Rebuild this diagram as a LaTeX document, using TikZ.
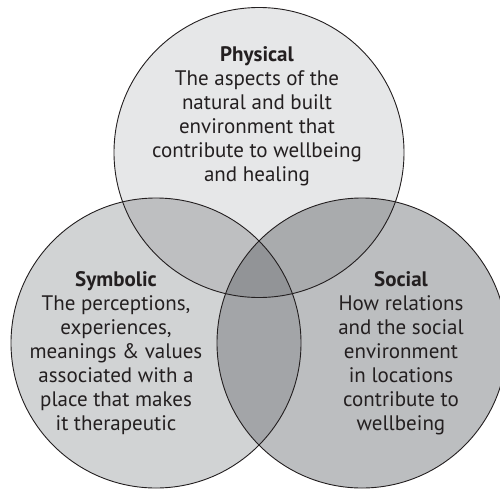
\documentclass[tikz,border=0pt]{standalone}
\usepackage{fontspec}
\setmainfont{PT Sans}
\usetikzlibrary{positioning}

\definecolor{inkdark}{HTML}{231F20}
\definecolor{physfill}{HTML}{E6E7E8}
\definecolor{symbfill}{HTML}{D1D3D4}
\definecolor{socfill}{HTML}{BCBEC0}
\definecolor{physsymb}{HTML}{BEBFC1}
\definecolor{physsoc}{HTML}{A9ABAD}
\definecolor{symbsoc}{HTML}{A3A5A8}
\definecolor{allthree}{HTML}{929497}

\begin{document}
\begin{tikzpicture}[
    x=1pt, y=-1pt,
    ring/.style={draw=inkdark, line width=0.9pt},
    blurb/.style={
        align=center,
        inner sep=0pt,
        text=inkdark,
        font=\fontsize{21}{24}\selectfont
    }
]
\useasboundingbox (0,0) rectangle (500,490);
\clip (0,0) rectangle (500,490);

% circle centres
\coordinate (phys) at (259,152.5);
\coordinate (symb) at (156,343);
\coordinate (soc) at (362,343);
\def\rad{145pt}

% single circles
\fill[physfill] (phys) circle[radius=\rad];
\fill[symbfill] (symb) circle[radius=\rad];
\fill[socfill] (soc) circle[radius=\rad];

% pairwise overlaps
\begin{scope}
  \clip (phys) circle[radius=\rad];
  \fill[physsymb] (symb) circle[radius=\rad];
  \fill[physsoc] (soc) circle[radius=\rad];
\end{scope}
\begin{scope}
  \clip (symb) circle[radius=\rad];
  \fill[symbsoc] (soc) circle[radius=\rad];
  % centre
  \clip (soc) circle[radius=\rad];
  \fill[allthree] (phys) circle[radius=\rad];
\end{scope}

% outlines
\draw[ring] (phys) circle[radius=\rad];
\draw[ring] (symb) circle[radius=\rad];
\draw[ring] (soc) circle[radius=\rad];

% labels
\node[blurb] (physlabel) at (257,116) {\textbf{Physical}\\The aspects of the\\natural and built\\environment that\\contribute to wellbeing\\and healing};
\node[blurb] (symblabel) at (116,353) {\textbf{Symbolic}\\The perceptions,\\experiences,\\meanings \& values\\associated with a\\place that makes\\it therapeutic};
\node[blurb] (soclabel) at (401,353) {\textbf{Social}\\How relations\\and the social\\environment\\in locations\\contribute to\\wellbeing};
\end{tikzpicture}
\end{document}
